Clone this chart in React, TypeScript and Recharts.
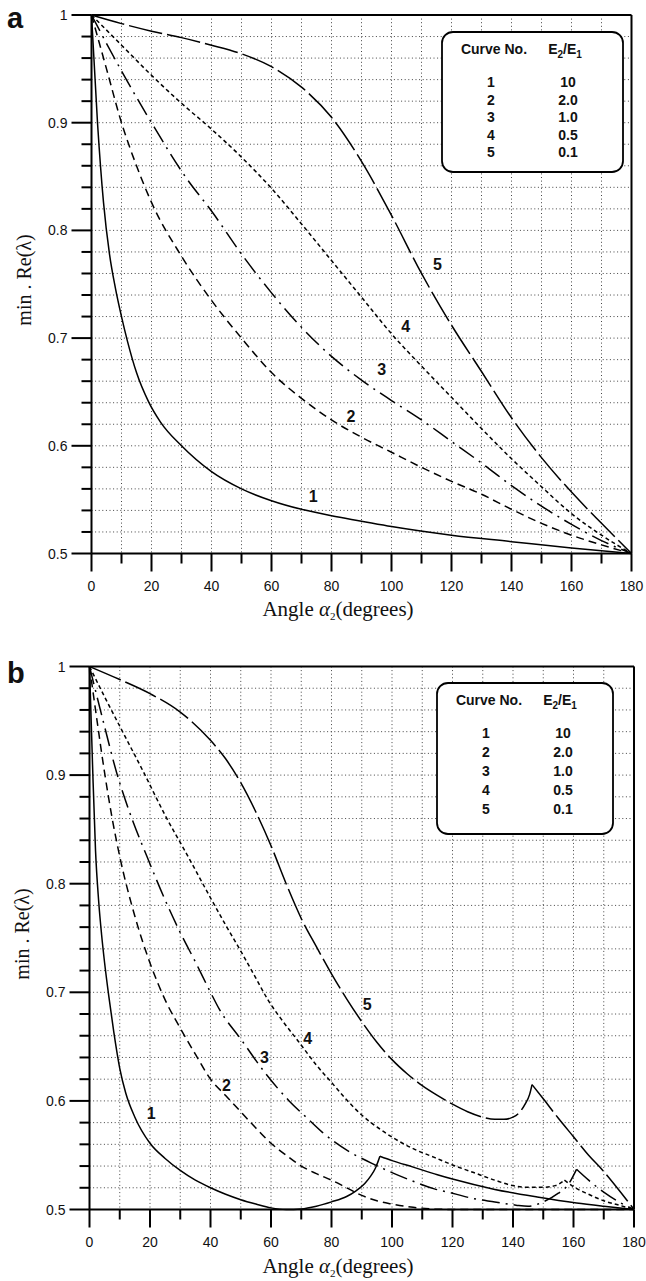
import { LineChart, Line, XAxis, YAxis, CartesianGrid, ReferenceLine, ReferenceDot } from 'recharts'

const X_TICKS = [0, 10, 20, 30, 40, 50, 60, 70, 80, 90, 100, 110, 120, 130, 140, 150, 160, 170, 180]
const Y_TICKS = [
  0.5, 0.52, 0.54, 0.56, 0.58, 0.6, 0.62, 0.64, 0.66, 0.68, 0.7, 0.72, 0.74,
  0.76, 0.78, 0.8, 0.82, 0.84, 0.86, 0.88, 0.9, 0.92, 0.94, 0.96, 0.98, 1,
]
const CURVE_NO = ['1', '2', '3', '4', '5']
const E_RATIO = ['10', '2.0', '1.0', '0.5', '0.1']

// panel a
const A1_ANGLE = [0, 2, 4, 6, 8, 10, 12, 15, 19, 23, 30, 40, 50, 60, 70, 80, 90, 100, 120, 140, 160, 180]
const A1_RE = [1, 0.9, 0.826, 0.778, 0.746, 0.72, 0.697, 0.668, 0.641, 0.622, 0.6, 0.576, 0.56, 0.549, 0.541, 0.535, 0.53, 0.525, 0.517, 0.511, 0.505, 0.5]
const A2_ANGLE = [0, 5, 10, 15, 20, 30, 40, 50, 60, 70, 80, 90, 100, 110, 120, 130, 140, 150, 160, 170, 180]
const A2_RE = [1, 0.95, 0.9, 0.86, 0.826, 0.776, 0.735, 0.7, 0.668, 0.644, 0.624, 0.608, 0.594, 0.58, 0.567, 0.555, 0.541, 0.528, 0.517, 0.508, 0.5]
const A3_ANGLE = [0, 10, 20, 32, 40, 50, 60, 70, 80, 90, 100, 110, 120, 130, 140, 150, 160, 170, 180]
const A3_RE = [1, 0.948, 0.9, 0.847, 0.818, 0.778, 0.742, 0.71, 0.683, 0.661, 0.642, 0.624, 0.604, 0.584, 0.563, 0.544, 0.527, 0.512, 0.5]
const A4_ANGLE = [0, 10, 20, 30, 40, 50, 60, 70, 80, 90, 100, 110, 120, 130, 140, 150, 160, 170, 180]
const A4_RE = [1, 0.972, 0.944, 0.918, 0.894, 0.868, 0.839, 0.806, 0.772, 0.738, 0.704, 0.674, 0.645, 0.616, 0.588, 0.562, 0.537, 0.517, 0.5]
const A5_ANGLE = [0, 10, 20, 30, 40, 50, 60, 70, 80, 90, 100, 110, 120, 130, 140, 150, 160, 170, 180]
const A5_RE = [1, 0.992, 0.985, 0.979, 0.972, 0.964, 0.952, 0.933, 0.905, 0.864, 0.814, 0.76, 0.712, 0.669, 0.626, 0.589, 0.557, 0.528, 0.5]

// panel b
const B1_ANGLE = [0, 1, 2, 3, 4, 5, 6.4, 8, 10, 12, 15, 20, 25, 30, 35, 40, 45, 50, 55, 60, 65, 70, 75, 80, 85, 88, 91, 93, 94.5, 95.5, 96, 100, 107, 115, 120, 134, 148, 161, 170, 180]
const B1_RE = [1, 0.91, 0.83, 0.785, 0.753, 0.727, 0.696, 0.664, 0.63, 0.607, 0.585, 0.561, 0.547, 0.536, 0.527, 0.52, 0.514, 0.509, 0.505, 0.5015, 0.5, 0.5005, 0.503, 0.507, 0.512, 0.517, 0.524, 0.531, 0.538, 0.545, 0.549, 0.545, 0.539, 0.532, 0.528, 0.5185, 0.5115, 0.506, 0.503, 0.5]
const B2_ANGLE = [0, 2.5, 5, 7.5, 10, 15, 20, 25, 30, 35, 40, 45, 50, 55, 60, 65, 70, 75, 80, 85, 90, 95, 100, 107, 114, 120, 140, 160, 180]
const B2_RE = [1, 0.95, 0.902, 0.86, 0.825, 0.77, 0.727, 0.693, 0.667, 0.643, 0.62, 0.605, 0.59, 0.575, 0.561, 0.55, 0.54, 0.533, 0.527, 0.52, 0.513, 0.508, 0.505, 0.502, 0.5005, 0.5, 0.5, 0.5, 0.5]
const B3_ANGLE = [0, 4.5, 9, 14, 19, 25, 30, 35, 40, 43, 50, 58, 66, 72, 77, 86, 93, 100, 107, 114, 120, 127, 134, 141, 145, 150, 155, 158, 161, 165, 170, 175, 180]
const B3_RE = [1, 0.95, 0.902, 0.86, 0.825, 0.785, 0.755, 0.728, 0.7, 0.684, 0.657, 0.626, 0.6, 0.584, 0.571, 0.553, 0.543, 0.534, 0.526, 0.519, 0.515, 0.51, 0.507, 0.504, 0.503, 0.507, 0.515, 0.522, 0.537, 0.527, 0.516, 0.507, 0.5]
const B4_ANGLE = [0, 5, 10, 18, 25, 32, 40, 45, 50, 55, 59, 64, 69, 75, 80, 85, 90, 95, 101, 107, 114, 120, 127, 134, 140, 145, 150, 154, 157, 160, 165, 170, 175, 180]
const B4_RE = [1, 0.972, 0.945, 0.902, 0.863, 0.828, 0.787, 0.762, 0.738, 0.713, 0.693, 0.673, 0.655, 0.633, 0.617, 0.601, 0.587, 0.576, 0.565, 0.556, 0.548, 0.541, 0.534, 0.527, 0.522, 0.5205, 0.5205, 0.522, 0.527, 0.521, 0.514, 0.508, 0.504, 0.5]
const B5_ANGLE = [0, 10, 20, 30, 40, 45, 50, 55, 60, 65, 70, 75, 80, 85, 90, 95, 100, 105, 110, 115, 120, 125, 130, 134, 137, 140, 142, 144, 145.5, 146.3, 150, 155, 160, 165, 170, 175, 180]
const B5_RE = [1, 0.988, 0.975, 0.958, 0.932, 0.915, 0.893, 0.866, 0.835, 0.8, 0.768, 0.742, 0.717, 0.694, 0.673, 0.654, 0.638, 0.625, 0.614, 0.605, 0.597, 0.59, 0.585, 0.583, 0.583, 0.585, 0.589, 0.597, 0.606, 0.615, 0.602, 0.584, 0.567, 0.55, 0.535, 0.518, 0.5]
// angle of the sharp corner on each panel b curve (null = none)
const B_CUSP = [96, null, 161, 157, 146.3]

// curve label spots [angle, value]
const A_LABELS = [[73.9, 0.553], [86.5, 0.628], [96.7, 0.671], [104.7, 0.711], [115.3, 0.769]]
const B_LABELS = [[20.4, 0.589], [45.3, 0.615], [57.8, 0.64], [72.1, 0.658], [91.8, 0.689]]

const DASHES = [undefined, '8 5', '18 6 2 6', '4 3', '34 5']

type Pt = { x: number; y: number }
const zip = (xs: number[], ys: number[]): Pt[] => xs.map((x, i) => ({ x, y: ys[i] }))

// split a curve into smooth pieces at its corner so the corner stays sharp
function pieces(pts: Pt[], cusp: number | null): Pt[][] {
  if (cusp == null) return [pts]
  const k = pts.findIndex((p) => p.x === cusp)
  return [pts.slice(0, k + 1), pts.slice(k)]
}

const SANS = '"Liberation Sans", Arial, sans-serif'
const SERIF = '"Liberation Serif", "Times New Roman", serif'

function XTick({ x, y, payload }: any) {
  const v = payload.value
  const major = v % 20 === 0
  return (
    <g>
      <line x1={x} x2={x} y1={y} y2={y + (major ? 18 : 10)} stroke="#000" strokeWidth={2} />
      {major && (
        <text x={x} y={y + 37} textAnchor="middle" fontFamily={SANS} fontSize={14} fill="#111">
          {v}
        </text>
      )}
    </g>
  )
}

function YTick({ x, y, payload }: any) {
  const v = payload.value
  const major = Math.abs(v * 10 - Math.round(v * 10)) < 1e-6
  return (
    <g>
      <line x1={x - (major ? 20 : 10)} x2={x} y1={y} y2={y} stroke="#000" strokeWidth={2} />
      {major && (
        <text x={x - 24} y={y + 5} textAnchor="end" fontFamily={SANS} fontSize={14} fill="#111">
          {v === 1 ? '1' : v.toFixed(1)}
        </text>
      )}
    </g>
  )
}

function Panel({ curves, labels, margin, height }: { curves: Pt[][][]; labels: number[][]; margin: any; height: number }) {
  return (
    <LineChart width={646} height={height} margin={margin}>
      <CartesianGrid stroke="#444" strokeDasharray="1 2.6" strokeWidth={1} />
      <XAxis
        type="number"
        dataKey="x"
        domain={[0, 180]}
        ticks={X_TICKS}
        interval={0}
        height={50}
        tickSize={0}
        tickMargin={0}
        tickLine={false}
        tick={<XTick />}
        axisLine={{ stroke: '#000', strokeWidth: 2 }}
      />
      <YAxis
        type="number"
        domain={[0.5, 1]}
        ticks={Y_TICKS}
        interval={0}
        width={80}
        tickSize={0}
        tickMargin={0}
        tickLine={false}
        tick={<YTick />}
        axisLine={{ stroke: '#000', strokeWidth: 2 }}
      />
      <ReferenceLine y={1} stroke="#000" strokeWidth={2} />
      <ReferenceLine x={180} stroke="#000" strokeWidth={2} />
      {curves.map((parts, i) =>
        parts.map((pts, j) => (
          <Line
            key={i + '-' + j}
            data={pts}
            dataKey="y"
            type="monotone"
            stroke="#000"
            strokeWidth={1.5}
            strokeDasharray={DASHES[i]}
            dot={false}
            isAnimationActive={false}
          />
        ))
      )}
      {labels.map(([lx, ly], i) => (
        <ReferenceDot
          key={'l' + i}
          x={lx}
          y={ly}
          ifOverflow="visible"
          shape={(p: any) => (
            <text x={p.cx} y={p.cy + 6} textAnchor="middle" fontFamily={SANS} fontWeight="bold" fontSize={16} fill="#111">
              {CURVE_NO[i]}
            </text>
          )}
        />
      ))}
    </LineChart>
  )
}

function LegendBox({ x, y, w, h, gap }: { x: number; y: number; w: number; h: number; gap: number }) {
  const c1 = x + 49
  const c2 = x + 126
  return (
    <g fontFamily={SANS} fontWeight="bold" fontSize={14} fill="#111">
      <rect x={x} y={y} width={w} height={h} rx={11} fill="#fff" stroke="#000" strokeWidth={1.8} />
      <text x={x + 52} y={y + 21.5} textAnchor="middle">Curve No.</text>
      <text x={c2 - 3} y={y + 21.5} textAnchor="middle">
        E<tspan fontSize={10} dy={4}>2</tspan>
        <tspan dy={-4}>/E</tspan>
        <tspan fontSize={10} dy={4}>1</tspan>
      </text>
      {CURVE_NO.map((n, i) => (
        <g key={n}>
          <text x={c1} y={y + 55 + i * gap} textAnchor="middle">{n}</text>
          <text x={c2} y={y + 55 + i * gap} textAnchor="middle">{E_RATIO[i]}</text>
        </g>
      ))}
    </g>
  )
}

function AxisTitles({ letter, top, cx, xTitleY, yTitleX, yTitleY }: any) {
  return (
    <g>
      <text x={cx} y={xTitleY} textAnchor="middle" fontFamily={SERIF} fontSize={21} fill="#111">
        Angle <tspan fontStyle="italic">α</tspan>
        <tspan fontSize={11} dy={4}>2</tspan>
        <tspan dy={-4}>(degrees)</tspan>
      </text>
      <text
        transform={`translate(${yTitleX},${yTitleY}) rotate(-90)`}
        textAnchor="middle"
        fontFamily={SERIF}
        fontSize={20}
        fill="#111"
      >
        min . Re(λ)
      </text>
      <text x={7} y={top} fontFamily={SANS} fontWeight="bold" fontSize={29} fill="#111">
        {letter}
      </text>
    </g>
  )
}

export default function App() {
  const curvesA = [
    zip(A1_ANGLE, A1_RE), zip(A2_ANGLE, A2_RE), zip(A3_ANGLE, A3_RE), zip(A4_ANGLE, A4_RE), zip(A5_ANGLE, A5_RE),
  ].map((c) => [c])
  const curvesB = [
    zip(B1_ANGLE, B1_RE), zip(B2_ANGLE, B2_RE), zip(B3_ANGLE, B3_RE), zip(B4_ANGLE, B4_RE), zip(B5_ANGLE, B5_RE),
  ].map((c, i) => pieces(c, B_CUSP[i]))

  return (
    <div style={{ position: 'absolute', left: 0, top: 0, width: 646, height: 1281, background: '#fff' }}>
      <div style={{ position: 'absolute', left: 0, top: 0 }}>
        <Panel curves={curvesA} labels={A_LABELS} height={640} margin={{ top: 15, right: 14.5, left: 11.5, bottom: 36.5 }} />
      </div>
      <div style={{ position: 'absolute', left: 0, top: 640 }}>
        <Panel curves={curvesB} labels={B_LABELS} height={641} margin={{ top: 26.5, right: 12, left: 9.5, bottom: 21.5 }} />
      </div>
      <svg width={646} height={1281} style={{ position: 'absolute', left: 0, top: 0, pointerEvents: 'none' }}>
        <LegendBox x={442} y={32} w={181} h={140} gap={17.5} />
        <LegendBox x={437} y={683} w={176} h={151} gap={19} />
        <AxisTitles letter="a" top={28} cx={338} xTitleY={616} yTitleX={31} yTitleY={280} />
        <AxisTitles letter="b" top={683} cx={338} xTitleY={1273} yTitleX={29} yTitleY={934} />
      </svg>
    </div>
  )
}
